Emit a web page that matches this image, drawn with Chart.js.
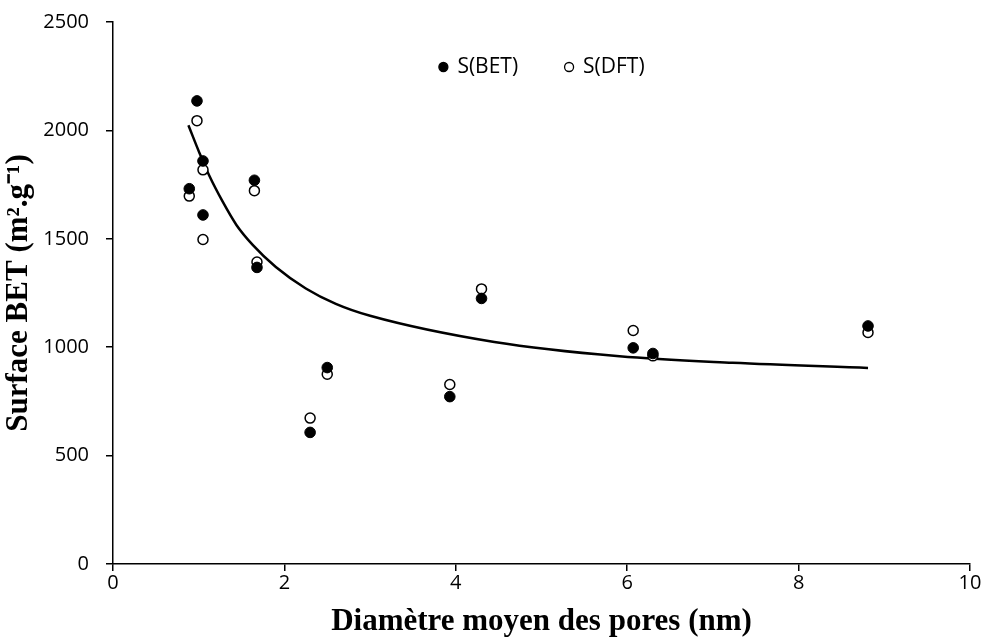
<!DOCTYPE html>
<html>
<head>
<meta charset="utf-8">
<script src="https://cdn.jsdelivr.net/npm/chart.js@4"></script>
<style>
  html, body { margin: 0; padding: 0; background: #fff; }
  #chart-pores { display: block; }
</style>
</head>
<body>
<canvas id="chart-pores" width="987" height="641"></canvas>
<script>
// mean pore diameter (nm) of each sample
var diametres = [0.89, 0.98, 1.05, 1.05, 1.65, 1.68, 2.30, 2.50, 3.93, 4.30, 6.07, 6.30, 8.81];
// surface values (m2/g)
var surfaceBET = [1731, 2136, 1859, 1610, 1770, 1368, 607, 906, 772, 1225, 997, 971, 1098];
var surfaceDFT = [1697, 2045, 1818, 1497, 1722, 1393, 673, 875, 828, 1269, 1077, 960, 1068];
// trend line, points
var courbeX = [0.88, 1.01, 1.12, 1.28, 1.44, 1.63, 1.90, 2.25, 2.60, 3.00, 4.45, 5.91, 7.23, 8.81];
var courbeY = [2024, 1895, 1794, 1671, 1564, 1472, 1370, 1271, 1200, 1145, 1024, 958, 928, 904];

function toPoints(xs, ys) {
    return xs.map((x, i) => ({ x: x, y: ys[i] }));
}

const tickFont = { family: 'Open Sans', size: 20 };
const titleFont = { family: 'Liberation Serif', size: 31, weight: 'bold' };

// legend drawn inside the plot, centred near the top
const legendInside = {
    id: 'legendInside',
    afterDraw(chart) {
        const c = chart.ctx;
        const area = chart.chartArea;
        const items = chart.data.datasets.filter(d => d.label !== 'courbe');
        c.save();
        c.font = '21px "Open Sans"';
        c.textBaseline = 'middle';
        const r = 5, toText = 14, gap = 46;
        var widths = items.map(d => c.measureText(d.label).width);
        var total = 0;
        items.forEach((d, i) => { total += r + toText + widths[i]; if (i < items.length - 1) total += gap; });
        var x = (area.left + area.right) / 2 - total / 2 + r;
        const y = area.top + 45;
        items.forEach((d, i) => {
            c.beginPath();
            c.arc(x, y, r - 0.5, 0, Math.PI * 2);
            c.fillStyle = d.pointBackgroundColor;
            c.fill();
            c.lineWidth = 1.3;
            c.strokeStyle = '#000';
            c.stroke();
            c.fillStyle = '#000';
            c.fillText(d.label, x + toText, y);
            x += toText + widths[i] + gap + r;
        });
        c.restore();
    }
};

const ctx = document.getElementById('chart-pores').getContext('2d');
const chartPores = new Chart(ctx, {
    type: 'scatter',
    data: {
        datasets: [{
            label: 'S(BET)',
            data: toPoints(diametres, surfaceBET),
            pointStyle: 'circle',
            pointRadius: 5.3,
            pointBackgroundColor: '#000',
            pointBorderColor: '#000',
            pointBorderWidth: 1,
            order: 0
        }, {
            label: 'S(DFT)',
            data: toPoints(diametres, surfaceDFT),
            pointStyle: 'circle',
            pointRadius: 5,
            pointBackgroundColor: '#fff',
            pointBorderColor: '#000',
            pointBorderWidth: 1.5,
            order: 1
        }, {
            label: 'courbe',
            type: 'line',
            data: toPoints(courbeX, courbeY),
            showLine: true,
            borderColor: '#000',
            borderWidth: 2.5,
            pointRadius: 0,
            fill: false,
            cubicInterpolationMode: 'monotone',
            order: 2
        }]
    },
    options: {
        responsive: false,
        animation: false,
        layout: { padding: { top: 22, right: 17, left: 0, bottom: 0 } },
        plugins: {
            tooltip: { enabled: false },
            legend: { display: false }
        },
        scales: {
            x: {
                type: 'linear',
                min: 0,
                max: 10,
                afterFit: s => { s.height = 77; },
                ticks: { stepSize: 2, color: '#000', font: tickFont, padding: 0, callback: v => String(v) },
                grid: { drawOnChartArea: false, drawTicks: true, tickLength: 7, color: '#000', lineWidth: 1.5 },
                border: { display: true, color: '#000', width: 1.5 },
                title: {
                    display: true,
                    text: 'Diamètre moyen des pores (nm)',
                    color: '#000',
                    font: titleFont,
                    padding: { top: 0, bottom: 0 }
                }
            },
            y: {
                min: 0,
                max: 2500,
                afterFit: s => { s.width = 113; s.paddingTop = 0; s.paddingBottom = 0; },
                ticks: { stepSize: 500, color: '#000', font: tickFont, padding: 17, callback: v => String(v) },
                grid: { drawOnChartArea: false, drawTicks: true, tickLength: 7, color: '#000', lineWidth: 1.5 },
                border: { display: true, color: '#000', width: 1.5 },
                title: {
                    display: true,
                    text: 'Surface BET (m².g⁻¹)',
                    color: '#000',
                    font: titleFont,
                    padding: { top: 0, bottom: 0 }
                }
            }
        }
    },
    plugins: [legendInside]
});
</script>
</body>
</html>
